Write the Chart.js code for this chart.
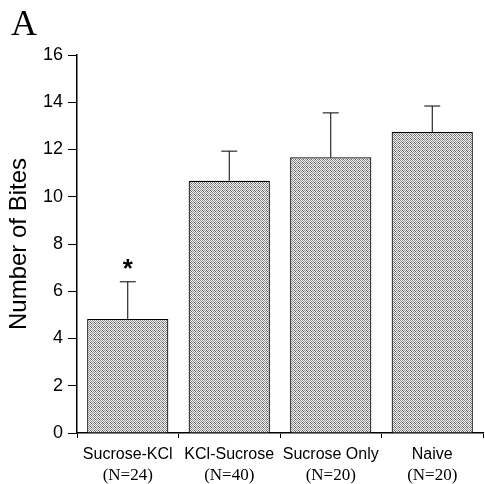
<!DOCTYPE html>
<html>
<head>
<meta charset="utf-8">
<script src="https://cdn.jsdelivr.net/npm/chart.js@4.4.0/dist/chart.umd.min.js"></script>
<style>
  html, body { margin: 0; padding: 0; background: #fff; }
  #wrap { width: 485px; height: 484px; position: relative; }
</style>
</head>
<body>
<div id="wrap"><canvas id="barChart"></canvas></div>
<script>
const categories = ['Sucrose-KCl', 'KCl-Sucrose', 'Sucrose Only', 'Naive'];
const groupSizes = ['(N=24)', '(N=40)', '(N=20)', '(N=20)'];
const meanBites = [4.83, 10.68, 11.67, 12.74];
const errorTop = [6.4, 11.93, 13.55, 13.84];
const significant = [true, false, false, false];
const yTicks = [0, 2, 4, 6, 8, 10, 12, 14, 16];

// stippled grey fill like the printed figure
function makeStipple() {
  const c = document.createElement('canvas');
  c.width = 4; c.height = 4;
  const g = c.getContext('2d');
  g.fillStyle = '#f4f4f4';
  g.fillRect(0, 0, 4, 4);
  g.fillStyle = '#8c8c8c';
  g.fillRect(0, 0, 1, 1);
  g.fillRect(2, 0, 1, 1);
  g.fillRect(1, 1, 1, 1);
  g.fillRect(3, 1, 1, 1);
  g.fillRect(0, 2, 1, 1);
  g.fillRect(1, 3, 1, 1);
  g.fillStyle = '#5a5a5a';
  g.fillRect(2, 2, 1, 1);
  g.fillRect(3, 3, 1, 1);
  return g.createPattern(c, 'repeat');
}

const extras = {
  id: 'extras',
  afterDatasetsDraw(chart) {
    const ctx = chart.ctx;
    const x = chart.scales.x, y = chart.scales.y;
    ctx.save();
    // error bars (upper only)
    ctx.strokeStyle = '#000';
    ctx.lineWidth = 1;
    meanBites.forEach((v, i) => {
      const cx = x.getPixelForValue(i);
      const y0 = y.getPixelForValue(v);
      const y1 = y.getPixelForValue(errorTop[i]);
      ctx.beginPath();
      ctx.moveTo(cx, y0);
      ctx.lineTo(cx, y1);
      ctx.moveTo(cx - 8, y1);
      ctx.lineTo(cx + 8, y1);
      ctx.stroke();
      if (significant[i]) {
        ctx.fillStyle = '#000';
        ctx.font = 'bold 26px "Liberation Sans", Arial, sans-serif';
        ctx.textAlign = 'center';
        ctx.textBaseline = 'middle';
        ctx.fillText('*', cx, y1 - 12);
      }
    });
    // second line of the category labels, serif
    ctx.fillStyle = '#000';
    ctx.font = '17px "Liberation Serif", "Times New Roman", serif';
    ctx.textAlign = 'center';
    ctx.textBaseline = 'alphabetic';
    groupSizes.forEach((n, i) => {
      ctx.fillText(n, x.getPixelForValue(i), 480);
    });
    // panel letter
    ctx.font = '36px "Liberation Serif", "Times New Roman", serif';
    ctx.textAlign = 'left';
    ctx.fillText('A', 11, 35);
    ctx.restore();
  }
};

new Chart(document.getElementById('barChart').getContext('2d'), {
  type: 'bar',
  data: {
    labels: categories,
    datasets: [{
      data: meanBites,
      backgroundColor: makeStipple(),
      borderColor: '#000',
      borderWidth: 1.2,
      barPercentage: 0.8,
      categoryPercentage: 1.0
    }]
  },
  options: {
    responsive: true,
    maintainAspectRatio: false,
    animation: false,
    layout: { padding: { top: 55, right: 2, left: 0, bottom: 0 } },
    plugins: { legend: { display: false }, tooltip: { enabled: false } },
    scales: {
      x: {
        offset: true,
        border: { color: '#000', width: 1.5 },
        grid: { drawOnChartArea: false, color: '#000', tickLength: 5, offset: true },
        ticks: {
          color: '#000',
          padding: 7,
          font: { family: '"Liberation Sans", Arial, sans-serif', size: 16 },
          maxRotation: 0
        },
        afterFit(scale) { scale.height = 51; }
      },
      y: {
        min: 0, max: 16,
        afterBuildTicks(scale) { scale.ticks = yTicks.map(v => ({ value: v })); },
        border: { color: '#000', width: 1.5 },
        grid: { drawOnChartArea: false, color: '#000', tickLength: 9 },
        ticks: {
          color: '#000',
          padding: 5,
          font: { family: '"Liberation Sans Narrow", "Liberation Sans", Arial, sans-serif', size: 18 }
        },
        title: {
          display: true,
          text: 'Number of Bites',
          color: '#000',
          padding: { top: 5, bottom: 0 },
          font: { family: '"Liberation Sans", Arial, sans-serif', size: 24 }
        },
        afterFit(scale) { scale.width = 77; }
      }
    }
  },
  plugins: [extras]
});
</script>
</body>
</html>
